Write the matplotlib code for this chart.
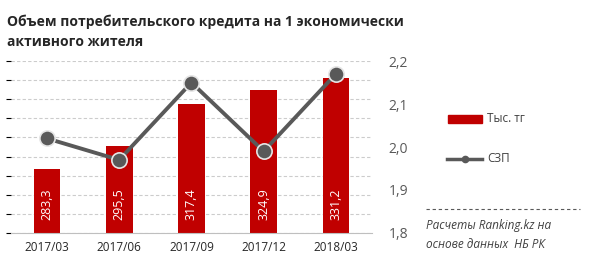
import matplotlib.pyplot as plt

# data
periods = ['2017/03', '2017/06', '2017/09', '2017/12', '2018/03']
credit = [283.3, 295.5, 317.4, 324.9, 331.2]   # тыс. тг
szp = [2.02, 1.97, 2.15, 1.99, 2.17]
right_ticks = [1.8, 1.9, 2.0, 2.1, 2.2]

plt.rcParams['font.family'] = ['Open Sans', 'DejaVu Sans']

fig = plt.figure(figsize=(6, 2.69), dpi=100)
ax = fig.add_axes([0.018, 0.134, 0.602, 0.639])
x = list(range(len(periods)))

ax.bar(x, credit, width=0.37, color='#C00000', zorder=2)
ax.set_ylim(250, 340)
ax.set_xlim(-0.5, len(periods) - 0.5)
ax.set_yticks(range(250, 341, 10))
ax.yaxis.grid(True, linestyle=(0, (3, 2)), color='#cccccc', linewidth=0.8)
ax.set_axisbelow(True)
ax.tick_params(axis='y', left=False, labelleft=False)
ax.tick_params(axis='x', length=0, labelsize=8.5, colors='#262626', pad=6)
ax.set_xticks(x)
ax.set_xticklabels(periods)
for s in ['top', 'right', 'left']:
    ax.spines[s].set_visible(False)
ax.spines['bottom'].set_color('#bfbfbf')

for xi, v in zip(x, credit):
    ax.text(xi, 265, str(v).replace('.', ','), rotation=90, ha='center', va='center',
            color='white', fontsize=9, zorder=3)

ax2 = ax.twinx()
ax2.plot(x, szp, color='#595959', linewidth=2.8, marker='o', markersize=11,
         markerfacecolor='#595959', markeredgecolor='#e6e6e6', markeredgewidth=1.2, zorder=4)
ax2.set_ylim(1.8, 2.2)
ax2.set_yticks(right_ticks)
ax2.set_yticklabels([str(t).replace('.', ',') for t in right_ticks])
ax2.tick_params(axis='y', length=0, labelsize=10, colors='#595959', pad=12)
for s in ['top', 'right', 'left', 'bottom']:
    ax2.spines[s].set_visible(False)

fig.text(0.012, 0.945, 'Объем потребительского кредита на 1 экономически\nактивного жителя',
         fontsize=10, fontweight='bold', color='#262626', va='top', linespacing=1.55)

# legend
fig.patches.append(plt.Rectangle((448 / 600, 1 - 123 / 269), 34 / 600, 8 / 269,
                                 transform=fig.transFigure, color='#C00000'))
fig.text(487 / 600, 1 - 119 / 269, 'Тыс. тг', fontsize=8.5, color='#404040', va='center')
fig.add_artist(plt.Line2D([447 / 600, 482 / 600], [1 - 159 / 269] * 2, transform=fig.transFigure,
                          color='#595959', linewidth=2.5))
fig.add_artist(plt.Line2D([464.5 / 600], [1 - 159 / 269], transform=fig.transFigure,
                          color='#595959', marker='o', markersize=4.5))
fig.text(487 / 600, 1 - 159 / 269, 'СЗП', fontsize=8.5, color='#404040', va='center')

fig.add_artist(plt.Line2D([426 / 600, 580 / 600], [1 - 209 / 269] * 2, transform=fig.transFigure,
                          color='#595959', linewidth=0.8, linestyle=(0, (3, 2.5))))
fig.text(426 / 600, 1 - 225 / 269, 'Расчеты Ranking.kz на', fontsize=8.5, style='italic',
         color='#404040', va='center')
fig.text(426 / 600, 1 - 245 / 269, 'основе данных  НБ РК', fontsize=8.5, style='italic',
         color='#404040', va='center')

fig.savefig('out.png', dpi=100)
